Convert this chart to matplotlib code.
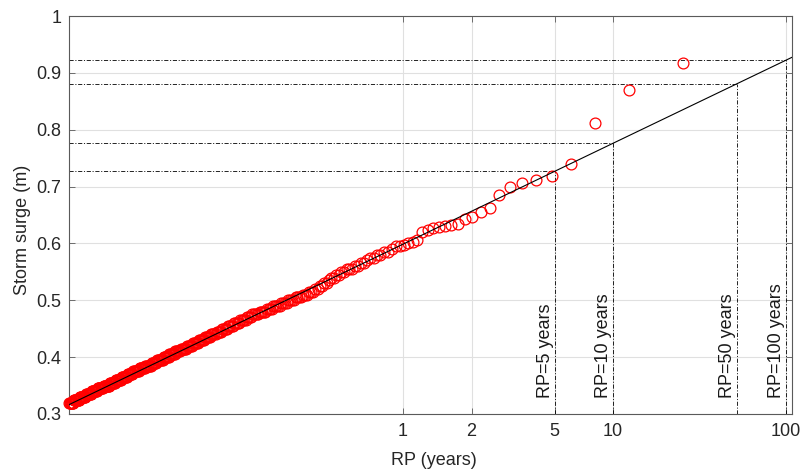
import numpy as np
import matplotlib.pyplot as plt
from statistics import NormalDist

plt.rcParams['font.family'] = ['Liberation Sans', 'DejaVu Sans']
plt.rcParams['lines.scale_dashes'] = False

# record length (samples) and samples per year, used for the plotting positions
n_record = 2420
samples_per_year = 100

# largest events, one value per rank (m)
top_surge = [0.918, 0.870, 0.811, 0.739, 0.719, 0.711, 0.706, 0.700, 0.685, 0.663,
             0.656, 0.647, 0.643, 0.634, 0.633, 0.631, 0.629, 0.627, 0.624, 0.620,
             0.606, 0.603, 0.600, 0.598]

# the rest of the sample, grouped by surge level (m) and number of events at that level
band_level = [0.595, 0.590, 0.585, 0.580, 0.575, 0.570, 0.565, 0.560, 0.555, 0.550,
              0.545, 0.540, 0.535, 0.530, 0.525, 0.520, 0.515, 0.510, 0.505, 0.500,
              0.495, 0.490, 0.485, 0.480, 0.475, 0.470, 0.465, 0.460, 0.455, 0.450,
              0.445, 0.440, 0.435, 0.430, 0.425, 0.420, 0.415, 0.410, 0.405, 0.400,
              0.395, 0.390, 0.385, 0.380, 0.375, 0.370, 0.365, 0.360, 0.355, 0.350,
              0.345, 0.340, 0.335, 0.330, 0.325, 0.320]
band_count = [2, 1, 2, 2, 2, 1, 2, 2, 3, 2,
              2, 2, 1, 2, 2, 2, 3, 3, 4, 4,
              4, 5, 4, 5, 5, 4, 5, 5, 5, 5,
              5, 5, 6, 6, 6, 6, 7, 6, 7, 7,
              8, 7, 8, 8, 9, 8, 9, 9, 9, 10,
              10, 10, 10, 11, 11, 9]

# normal fit of the surge (m)
fit_mu = 0.0577
fit_sigma = 0.2325

rp_marks = [5, 10, 50, 100]
rp_ticks = [1, 2, 5, 10, 100]

nd = NormalDist()


def _fwd(r):
    if not r > 0:
        return np.nan
    p = 1.0 / (samples_per_year * r)
    if not 0 < p < 1:
        return np.nan
    return nd.inv_cdf(1 - p)


def _inv(z):
    q = 1 - nd.cdf(z)
    if q <= 0:
        return np.inf
    return 1.0 / (samples_per_year * q)


rp_to_z = np.vectorize(_fwd, otypes=[float])
z_to_rp = np.vectorize(_inv, otypes=[float])

surge = np.concatenate([top_surge, np.repeat(band_level, band_count)])
rank = np.arange(1, len(surge) + 1)
rp = (n_record + 1) / (samples_per_year * rank)


def fit(r):
    return fit_mu + fit_sigma * rp_to_z(r)


fig = plt.figure(figsize=(8.02, 4.72), dpi=100)
ax = fig.add_axes([0.086, 0.123, 0.9015, 0.843])
ax.set_xscale('function', functions=(rp_to_z, z_to_rp))

xlim = (rp[-1], 109)
ylim = (0.3, 1.0)

ax.plot(rp, surge, 'o', mfc='none', mec='red', ms=7.8, mew=0.9,
        clip_on=False, zorder=3)
ax.plot(xlim, fit(np.array(xlim)), color='black', lw=0.8, zorder=4)

dash = (0, (3.0, 1.2, 0.8, 1.2))
for r in rp_marks:
    lev = float(fit(r))
    ax.plot([r, r], [ylim[0], lev], color='black', lw=0.6, ls=dash, zorder=2)
    ax.plot([xlim[0], r], [lev, lev], color='black', lw=0.6, ls=dash, zorder=2)
    ax.annotate('RP=%g years' % r, xy=(r, ylim[0]), xytext=(-0.8, 11.5),
                textcoords='offset points', rotation=90, ha='right', va='bottom',
                fontsize=13, color='#1a1a1a', zorder=5)

ax.set_xlim(xlim)
ax.set_ylim(ylim)
ax.xaxis.set_major_locator(plt.FixedLocator(rp_ticks))
ax.xaxis.set_major_formatter(plt.FuncFormatter(lambda v, pos: '%g' % v))
ax.xaxis.set_minor_locator(plt.NullLocator())
ax.set_yticks([0.3, 0.4, 0.5, 0.6, 0.7, 0.8, 0.9, 1.0])
ax.yaxis.set_major_formatter(plt.FuncFormatter(lambda v, pos: '%g' % round(v, 2)))

ax.grid(True, color='#e0e0e0', lw=0.8, zorder=0)
ax.set_axisbelow(True)
for s in ax.spines.values():
    s.set_color('#5a5a5a')
    s.set_linewidth(0.8)
ax.tick_params(direction='in', length=4, width=0.6, top=True, right=True,
               color='#5a5a5a', labelcolor='#262626', labelsize=13)
ax.tick_params(axis='x', pad=6.5)
ax.tick_params(axis='y', pad=5.3)

ax.set_xlabel('RP (years)', fontsize=13, color='#262626')
ax.set_ylabel('Storm surge (m)', fontsize=13, color='#262626')
ax.xaxis.set_label_coords(0.505, -0.095)
ax.yaxis.set_label_coords(-0.052, 0.462)

fig.savefig('out.png', dpi=100)
